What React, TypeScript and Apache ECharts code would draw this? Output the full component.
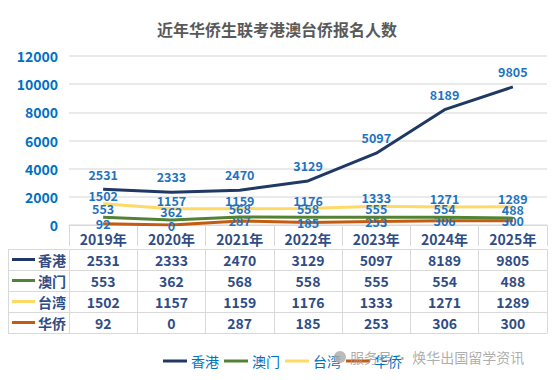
import React, { useEffect, useRef } from "react";
import * as echarts from "echarts";

const years = ["2019年", "2020年", "2021年", "2022年", "2023年", "2024年", "2025年"];
const hongKong = [2531, 2333, 2470, 3129, 5097, 8189, 9805];
const macau = [553, 362, 568, 558, 555, 554, 488];
const taiwan = [1502, 1157, 1159, 1176, 1333, 1271, 1289];
const overseas = [92, 0, 287, 185, 253, 306, 300];
const seriesNames = ["香港", "澳门", "台湾", "华侨"];
const seriesColors = ["#1F3864", "#548235", "#FFD966", "#C55A11"];
const yTicks = { min: 0, max: 12000, interval: 2000 };

const FONT = "'Noto Sans CJK SC', 'Noto Sans', sans-serif";
const TABLE_COLOR = "#2F4C85";
const BORDER = "#D9D9D9";

export default function App() {
  const ref = useRef<HTMLDivElement>(null);
  useEffect(() => {
    if (!ref.current) return;
    const chart = echarts.init(ref.current, undefined, { renderer: "svg" });
    const values = [hongKong, macau, taiwan, overseas];
    const rowTop = 249;
    const rowH = 21;

    const tableAxes: any[] = values.map((vals, i) => ({
      type: "category",
      position: "bottom",
      offset: 24 + i * rowH,
      data: vals.map(String),
      axisLine: { show: true, lineStyle: { color: BORDER, width: 1 } },
      axisTick: { show: true, interval: 0, length: rowH, lineStyle: { color: BORDER } },
      axisLabel: {
        interval: 0,
        margin: 10.5,
        verticalAlign: "middle",
        color: TABLE_COLOR,
        fontSize: 14,
        fontWeight: "bold",
        fontFamily: FONT,
      },
    }));

    const graphic: any[] = [];
    for (let i = 0; i <= 4; i++) {
      graphic.push({
        type: "line",
        shape: { x1: 8, y1: rowTop + i * rowH + 0.5, x2: 69, y2: rowTop + i * rowH + 0.5 },
        style: { stroke: BORDER, lineWidth: 1 },
      });
    }
    graphic.push({
      type: "line",
      shape: { x1: 8.5, y1: rowTop, x2: 8.5, y2: rowTop + 4 * rowH },
      style: { stroke: BORDER, lineWidth: 1 },
    });
    seriesNames.forEach((name, i) => {
      const cy = rowTop + i * rowH + rowH / 2;
      graphic.push({
        type: "line",
        shape: { x1: 12, y1: cy, x2: 35, y2: cy },
        style: { stroke: seriesColors[i], lineWidth: 3 },
      });
      graphic.push({
        type: "text",
        x: 38,
        y: cy,
        style: {
          text: name,
          fill: TABLE_COLOR,
          font: `bold 14px ${FONT}`,
          verticalAlign: "middle",
          textAlign: "left",
        },
      });
    });
    graphic.push({
      type: "circle",
      shape: { cx: 340, cy: 357, r: 6 },
      style: { fill: "rgba(170,170,170,0.8)" },
      z: 100,
    });
    graphic.push({
      type: "text",
      x: 350,
      y: 357,
      z: 100,
      style: {
        text: "服务号 · 焕华出国留学资讯",
        fill: "rgba(160,160,160,0.85)",
        font: `14px ${FONT}`,
        verticalAlign: "middle",
        textAlign: "left",
      },
    });

    const labelDist = [9, 2, 2, 0];
    chart.setOption({
      animation: false,
      title: {
        text: "近年华侨生联考港澳台侨报名人数",
        left: "center",
        top: 16,
        textStyle: { fontSize: 16, fontWeight: "bold", color: "#595959", fontFamily: FONT },
      },
      grid: { left: 69, right: 7, top: 56, bottom: 155 },
      legend: {
        data: seriesNames.map((n) => ({ name: n, icon: "rect" })),
        left: 158,
        top: 349,
        itemWidth: 24,
        itemHeight: 3,
        itemGap: 5,
        textStyle: { color: "#0070C0", fontSize: 14, fontFamily: FONT, padding: [0, 0, 0, -1] },
      },
      xAxis: [
        {
          type: "category",
          position: "bottom",
          offset: 3,
          data: years,
          axisLine: { show: true, lineStyle: { color: BORDER, width: 1 } },
          axisTick: { show: true, interval: 0, length: rowH, lineStyle: { color: BORDER } },
          axisLabel: {
            interval: 0,
            margin: 10.5,
            verticalAlign: "middle",
            color: TABLE_COLOR,
            fontSize: 14,
            fontWeight: "bold",
            fontFamily: FONT,
          },
        },
        ...tableAxes,
        {
          type: "category",
          position: "bottom",
          offset: 24 + 4 * rowH,
          data: years,
          axisLine: { show: true, lineStyle: { color: BORDER, width: 1 } },
          axisTick: { show: false },
          axisLabel: { show: false },
        },
      ],
      yAxis: {
        type: "value",
        min: yTicks.min,
        max: yTicks.max,
        interval: yTicks.interval,
        axisLine: { show: false },
        axisTick: { show: false },
        axisLabel: {
          color: "#0070C0",
          fontSize: 14,
          fontWeight: "bold",
          fontFamily: FONT,
          margin: 11,
          formatter: (v: number) => String(v),
        },
        splitLine: { lineStyle: { color: "#E3E3E3", width: 1.5 } },
      },
      series: values.map((vals, i) => ({
        name: seriesNames[i],
        type: "line",
        xAxisIndex: 0,
        data: vals,
        symbol: "circle",
        symbolSize: 0.1,
        showSymbol: true,
        lineStyle: { color: seriesColors[i], width: 3 },
        itemStyle: { color: seriesColors[i] },
        label: {
          show: true,
          position: i === 3 ? "inside" : "top",
          distance: labelDist[i],
          color: "#1E73BE",
          fontSize: 12.5,
          fontWeight: "bold",
          fontFamily: FONT,
        },
        labelLayout: { hideOverlap: false },
        z: 10 - i,
      })),
      graphic,
    });
    return () => chart.dispose();
  }, []);
  return <div ref={ref} style={{ position: "absolute", left: 0, top: 0, width: 554, height: 380 }} />;
}
